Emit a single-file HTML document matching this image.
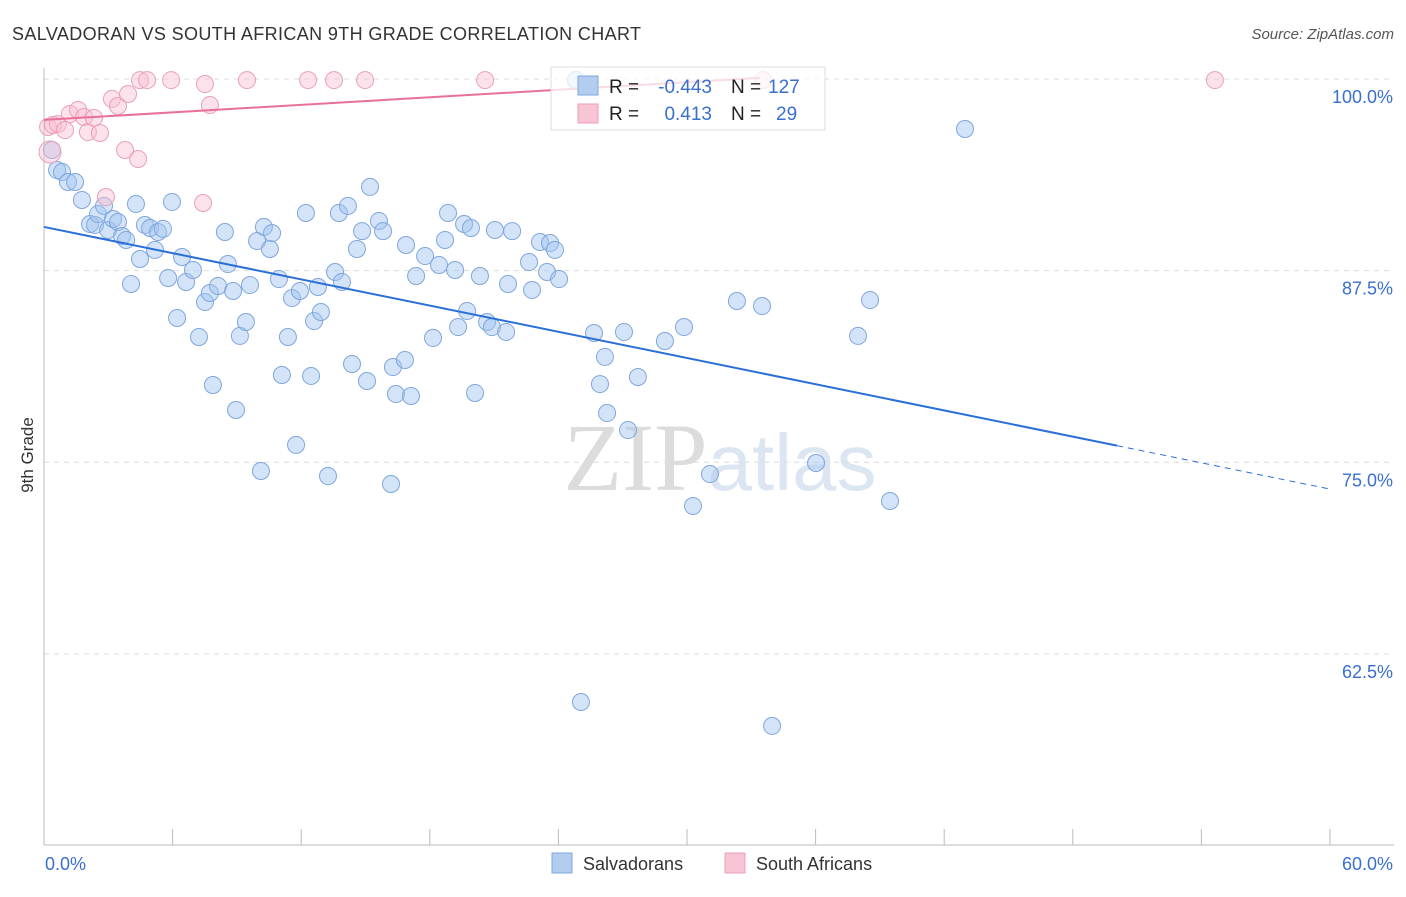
<!DOCTYPE html>
<html><head><meta charset="utf-8">
<style>
body{margin:0;background:#fff;font-family:"Liberation Sans",sans-serif;}
svg text{font-family:"Liberation Sans",sans-serif;}
</style></head>
<body>
<svg id="chart" width="1406" height="892" viewBox="0 0 1406 892" xmlns="http://www.w3.org/2000/svg">
<text x="12" y="40" font-size="18" fill="#333" textLength="629" lengthAdjust="spacing">SALVADORAN VS SOUTH AFRICAN 9TH GRADE CORRELATION CHART</text>
<text x="1394" y="39" font-size="15" fill="#555" text-anchor="end" font-style="italic">Source: ZipAtlas.com</text>
<text x="720" y="490" font-size="96" fill="#e4e4e4" text-anchor="middle" font-family="Liberation Serif"><tspan font-family="Liberation Serif" fill="#dcdcdc">ZIP</tspan><tspan font-family="Liberation Sans" fill="#dce6f3" font-size="80">atlas</tspan></text>
<g id="grid"></g>
<g id="axes"></g>
<g id="points"></g>
<g id="lines"></g>
<text x="33" y="455" font-size="17" fill="#333" text-anchor="middle" transform="rotate(-90 33 455)">9th Grade</text>
<g>
<rect x="551" y="67" width="274" height="63" fill="rgba(255,255,255,0.75)" stroke="#ddd"/>
<rect x="578" y="76" width="20" height="19" fill="#b3cdf0" stroke="#7fa6dd"/>
<rect x="578" y="104" width="20" height="19" fill="#f8c5d5" stroke="#eaa0b8"/>
<text x="609" y="93" font-size="19" fill="#222">R =</text>
<text x="712" y="93" font-size="19" fill="#3a6fd0" text-anchor="end">-0.443</text>
<text x="731" y="93" font-size="19" fill="#222">N =</text>
<text x="768" y="93" font-size="19" fill="#3a6fd0">127</text>
<text x="609" y="120" font-size="19" fill="#222">R =</text>
<text x="712" y="120" font-size="19" fill="#3a6fd0" text-anchor="end">0.413</text>
<text x="731" y="120" font-size="19" fill="#222">N =</text>
<text x="776" y="120" font-size="19" fill="#3a6fd0">29</text>
</g>
<g>
<rect x="552" y="853" width="20" height="20" fill="#b3cdf0" stroke="#7fa6dd"/>
<text x="583" y="870" font-size="18" fill="#333">Salvadorans</text>
<rect x="725" y="853" width="20" height="20" fill="#f8c5d5" stroke="#eaa0b8"/>
<text x="756" y="870" font-size="18" fill="#333">South Africans</text>
</g>
</svg>
<script>
const blueX=[0.37,0.61,0.84,1.12,1.45,1.77,2.15,2.38,2.52,2.80,2.99,3.22,3.45,3.64,3.83,4.06,4.29,4.48,4.71,4.95,5.18,5.32,5.55,5.79,5.97,6.21,6.44,6.63,6.95,7.23,7.51,7.74,7.88,8.12,8.44,8.58,8.82,8.96,9.14,9.42,9.61,9.94,10.12,10.26,10.54,10.64,10.96,11.10,11.38,11.57,11.76,11.94,12.22,12.46,12.60,12.78,12.92,13.25,13.58,13.76,13.90,14.18,14.37,14.60,14.84,15.07,15.21,15.63,15.82,16.19,16.28,16.42,16.84,16.89,17.12,17.36,17.78,18.15,18.43,18.71,18.85,19.18,19.32,19.60,19.74,19.92,20.11,20.34,20.67,20.90,21.04,21.56,21.65,21.84,22.63,22.77,23.14,23.47,23.61,23.84,24.03,24.82,25.05,25.66,25.94,26.17,26.27,27.06,27.25,27.71,28.97,29.86,30.28,31.07,32.33,33.50,33.97,36.02,37.98,38.54,39.47,42.97];
const blueY=[95.37,94.06,93.93,93.28,93.28,92.11,90.54,90.48,91.19,91.72,90.15,90.87,90.67,89.76,89.50,86.63,91.85,88.26,90.48,90.28,88.85,90.02,90.22,87.02,91.98,84.41,88.39,86.76,87.54,83.17,85.45,86.04,80.04,86.50,90.02,87.93,86.17,78.41,83.24,84.15,86.56,89.43,74.43,90.35,88.91,89.95,86.95,80.69,83.17,85.71,76.13,86.17,91.26,80.63,84.21,86.43,84.80,74.10,87.41,91.26,86.76,91.72,81.41,88.91,90.08,80.30,92.96,90.74,90.08,73.58,81.21,79.45,81.67,89.17,79.32,87.15,88.45,83.11,87.87,89.50,91.26,87.54,83.82,90.54,84.87,90.28,79.52,87.15,84.15,83.82,90.15,83.50,86.63,90.08,88.06,86.24,89.37,87.41,89.30,88.85,86.95,99.93,59.36,83.43,80.10,81.87,78.21,83.50,77.10,80.56,82.91,83.82,72.15,74.23,85.52,85.19,57.80,74.95,83.24,85.58,72.47,96.74];
const pinkX=[0.19,0.42,0.65,0.98,1.21,1.59,1.87,2.05,2.33,2.61,2.89,3.17,3.45,3.92,4.39,3.78,4.48,4.81,5.93,7.42,7.51,7.74,9.47,12.32,13.53,14.98,20.58,33.55,54.63,0.28];
const pinkY=[96.87,97.0,97.06,96.67,97.72,97.98,97.52,96.54,97.46,96.48,92.30,98.70,98.24,99.02,94.78,95.37,99.93,99.93,99.93,91.91,99.67,98.30,99.93,99.93,99.93,99.93,99.93,99.93,99.93,95.24];
const yTicks=[100,87.5,75,62.5];
const yTickLabels=["100.0%","87.5%","75.0%","62.5%"];
const xTickVals=[0,6,12,18,24,30,36,42,48,54,60];
const xEndLabels=["0.0%","60.0%"];
const blueLine=[90.35,73.25]; // at x=0 and x=60
const pinkLine=[97.33,100.07]; // at x=0 and x=33.4
const pinkLineEnd=33.4;
const blueSolidEnd=50.06;

const NS="http://www.w3.org/2000/svg";
const xs=v=>44+v/60*1286;
const ys=v=>79+(100-v)*15.33;
function mk(tag,attrs,parent){const e=document.createElementNS(NS,tag);for(const k in attrs)e.setAttribute(k,attrs[k]);document.getElementById(parent).appendChild(e);return e;}

yTicks.forEach((t,i)=>{
  const l=mk('line',{x1:44,x2:1394,y1:ys(t),y2:ys(t),stroke:'#dcdcdc','stroke-dasharray':'5,5'},'grid');
  
  
  const tx=mk('text',{x:1393,y:ys(t)+24,'font-size':18,fill:'#3a6fd0','text-anchor':'end'},'axes');
  tx.textContent=yTickLabels[i];
  
  
});
const ax=mk('line',{x1:44,x2:44,y1:68,y2:845,stroke:'#bbb'},'axes');


const bx=mk('line',{x1:44,x2:1394,y1:845,y2:845,stroke:'#bbb'},'axes');


xTickVals.forEach(v=>{
  const t=mk('line',{x1:xs(v),x2:xs(v),y1:829,y2:845,stroke:'#bbb'},'axes');
  
  
});
const xl0=mk('text',{x:45,y:870,'font-size':18,fill:'#3a6fd0'},'axes');
xl0.textContent=xEndLabels[0];


const xl1=mk('text',{x:1393,y:870,'font-size':18,fill:'#3a6fd0','text-anchor':'end'},'axes');
xl1.textContent=xEndLabels[1];



blueX.forEach((x,i)=>{
  const c=mk('circle',{cx:xs(x),cy:ys(blueY[i]),r:8.5,fill:'rgba(160,195,240,0.45)',stroke:'#7fa6dd','stroke-width':1},'points');
  
  
});
pinkX.forEach((x,i)=>{
  const c=mk('circle',{cx:xs(x),cy:ys(pinkY[i]),r:i==pinkX.length-1?11:8.5,fill:'rgba(248,190,210,0.45)',stroke:'#eaa0b8','stroke-width':1},'points');
  
  
});
const bAt=x=>blueLine[0]+(blueLine[1]-blueLine[0])*x/60;
const bl=mk('line',{x1:xs(0),y1:ys(bAt(0)),x2:xs(blueSolidEnd),y2:ys(bAt(blueSolidEnd)),stroke:'#2a6fd6','stroke-width':2},'lines');


const bd=mk('line',{x1:xs(blueSolidEnd),y1:ys(bAt(blueSolidEnd)),x2:xs(60),y2:ys(bAt(60)),stroke:'#2a6fd6','stroke-width':1,'stroke-dasharray':'6,5'},'lines');


const pl=mk('line',{x1:xs(0),y1:ys(pinkLine[0]),x2:xs(pinkLineEnd),y2:ys(pinkLine[1]),stroke:'#e8709a','stroke-width':2},'lines');


</script>
</body></html>
